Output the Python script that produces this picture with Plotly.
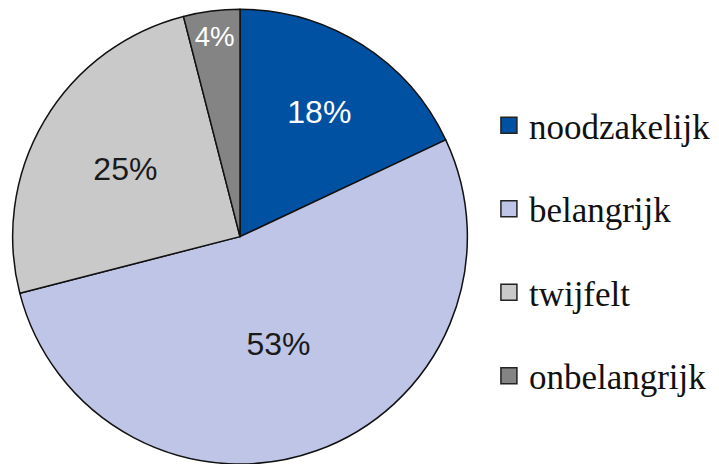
import plotly.graph_objects as go

categories = ["noodzakelijk", "belangrijk", "twijfelt", "onbelangrijk"]
values = [18, 53, 25, 4]
colors = ["#0051A2", "#BEC5E6", "#C9C9C9", "#848484"]
text_colors = ["white", "#1a1a1a", "#1a1a1a", "white"]

fig = go.Figure()
fig.add_trace(go.Pie(
    labels=categories, values=values, sort=False, direction="clockwise", rotation=0,
    marker=dict(colors=colors, line=dict(color="#111111", width=1.5)),
    texttemplate="%{value}%", textposition="inside", insidetextorientation="horizontal",
    textfont=dict(family="Liberation Sans", size=32, color=text_colors),
    showlegend=False, hoverinfo="label+percent",
    domain=dict(x=[12/719, 468/719], y=[0, 0.98]),
))
for c, col in zip(categories, colors):
    fig.add_trace(go.Scatter(
        x=[None], y=[None], mode="markers", name=c, legendgroup=c,
        marker=dict(symbol="square", size=16, color=col, line=dict(color="#222222", width=1.5)),
    ))
fig.update_layout(
    width=719, height=464, margin=dict(l=0, r=0, t=0, b=0),
    paper_bgcolor="white", plot_bgcolor="white",
    xaxis=dict(visible=False), yaxis=dict(visible=False),
    legend=dict(x=0.68, y=0.793, xanchor="left", yanchor="top",
                font=dict(family="Liberation Serif", size=35, color="#111111"),
                tracegroupgap=35, itemsizing="trace"),
)
fig.write_html("out.html")
